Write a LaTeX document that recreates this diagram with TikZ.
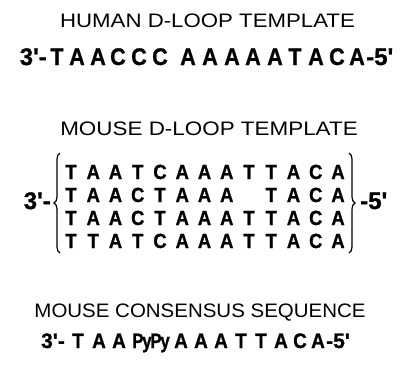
\documentclass[tikz,border=0pt]{standalone}
\usepackage{fontspec}
\setmainfont{Liberation Sans}
\newfontfamily\seqfont{Liberation Sans Bold}[FakeBold=1]
\usetikzlibrary{decorations.pathreplacing}
\tikzset{
  headline/.style={anchor=base, inner sep=0pt, font=\fontsize{19.5}{19.5}\selectfont},
  bigletter/.style={anchor=base, inner sep=0pt, font=\seqfont\fontsize{24}{24}\selectfont},
  rowletter/.style={anchor=base, inner sep=0pt, xscale=0.9, font=\seqfont\fontsize{20.5}{20.5}\selectfont},
  midletter/.style={anchor=base, inner sep=0pt, font=\seqfont\fontsize{21}{21}\selectfont},
  bracket/.style={decorate, decoration={brace, amplitude=6pt}, line width=1.2pt}
}

\begin{document}
\begin{tikzpicture}[x=1pt, y=-1pt]
			%%%%% START %%%%%
			\useasboundingbox (0, 0) rectangle (411, 370);
			
			% human
			\node[headline, xscale=1.14] (htitle) at (207.5, 27) {HUMAN D-LOOP TEMPLATE};
			\node[bigletter, anchor=base east] (hleft) at (47, 65) {3'-};
			\foreach \x/\b [count=\i] in {57/T,77/A,98/A,118/C,139/C,160/C,188/A,210/A,232/A,253/A,275/A,295/T,316/A,337/C,357/A}
				\node[bigletter, xscale=0.9] (h\i) at (\x, 65) {\b};
			\node[bigletter, anchor=base west] (hright) at (366, 65) {-5'};
			
			% mouse template
			\node[headline, xscale=1.15] (mtitle) at (209, 135) {MOUSE D-LOOP TEMPLATE};
			\foreach \row [count=\r] in {{T,A,A,T,C,A,A,A,T,T,A,C,A},{T,A,A,C,T,A,A,A,,T,A,C,A},{T,A,A,C,T,A,A,A,T,T,A,C,A},{T,T,A,T,C,A,A,A,T,T,A,C,A}}
				\foreach \b [count=\c] in \row
					\node[rowletter] (m\r-\c) at ({71+(\c-1)*22.25}, {179+(\r-1)*23}) {\b};
			\draw[bracket] (60, 253) -- (60, 153);
			\draw[bracket] (349, 153) -- (349, 253);
			\node[bigletter, anchor=base east] (mleft) at (51, 209) {3'-};
			\node[bigletter, anchor=base west] (mright) at (360, 209) {-5'};
			
			% consensus
			\node[headline, xscale=1.05] (ctitle) at (200, 317) {MOUSE CONSENSUS SEQUENCE};
			\node[midletter, anchor=base east] (cleft) at (65, 348) {3'-};
			\foreach \x/\b/\s [count=\i] in {78/T/0.9,99/A/0.9,119/A/0.9,151/{P\kern-1.5pt y\kern-1.5pt P\kern-1.5pt y}/0.8,181/A/0.9,201/A/0.9,221/A/0.9,241/T/0.9,261/T/0.9,281/A/0.9,300/C/0.9,318/A/0.9}
				\node[midletter, xscale=\s] (c\i) at (\x, 348) {\b};
			\node[midletter, anchor=base west] (cright) at (326, 348) {-5'};
			%%%%% END %%%%%
\end{tikzpicture}
\end{document}
